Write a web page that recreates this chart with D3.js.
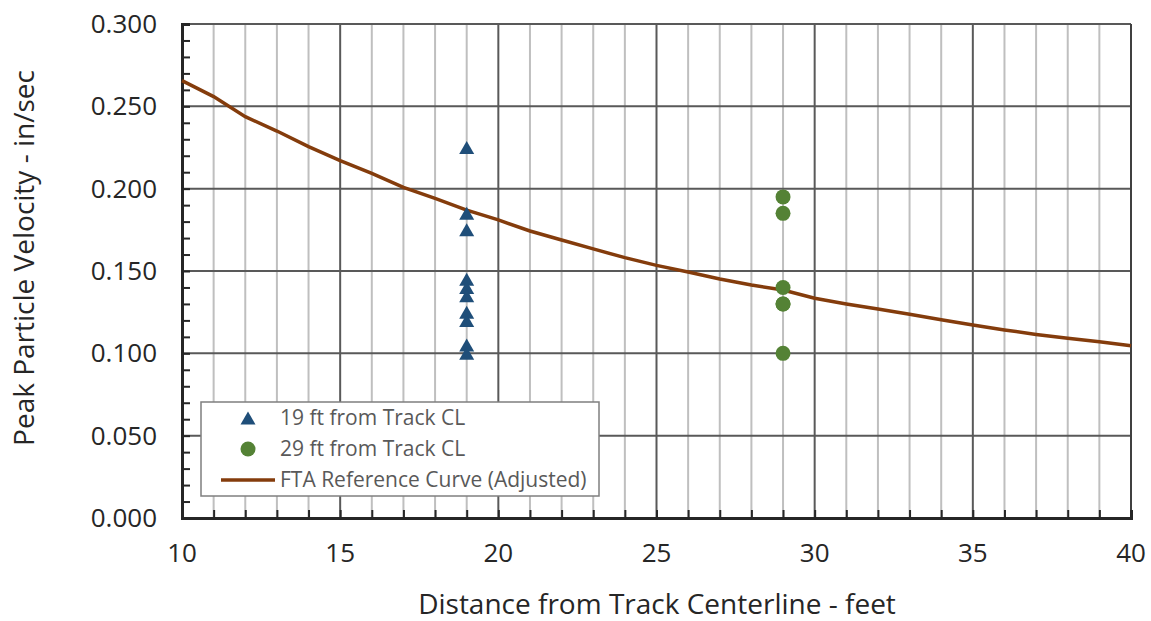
<!DOCTYPE html>
<html lang="en">
<head>
  <meta charset="UTF-8">
  <title>Peak Particle Velocity vs Distance</title>
  <style>
    body { margin: 0; background: #fff; font-family: "Open Sans", "Noto Sans", sans-serif; }
    svg { display: block; }
    .tick-label { fill: #262626; font-size: 26px; }
    .axis-title { fill: #262626; font-size: 28px; }
    .legend-text { fill: #595959; font-size: 21px; }
  </style>
</head>
<body>
  <svg id="chart" width="1151" height="621"></svg>
  <script src="https://d3js.org/d3.v7.min.js"></script>
  <script>
  const nearDist = 19;
  const nearPPV = [0.225, 0.185, 0.175, 0.145, 0.140, 0.135, 0.125, 0.120, 0.105, 0.100];
  const farDist = 29;
  const farPPV = [0.195, 0.185, 0.140, 0.130, 0.130, 0.100];

  // FTA reference curve (adjusted)
  const curveDist = [10, 11, 12, 13, 14, 15, 16, 17, 18, 19, 20, 21, 22, 23, 24, 25,
                     26, 27, 28, 29, 30, 31, 32, 33, 34, 35, 36, 37, 38, 39, 40];
  const curvePPV = [0.2656, 0.2559, 0.2437, 0.2350, 0.2255, 0.2170, 0.2093, 0.2008, 0.1941, 0.1870,
                    0.1810, 0.1743, 0.1688, 0.1634, 0.1581, 0.1534, 0.1494, 0.1451, 0.1415, 0.1385,
                    0.1335, 0.1300, 0.1269, 0.1237, 0.1204, 0.1172, 0.1142, 0.1115, 0.1091, 0.1070, 0.1046];

  const xTicks = [10, 15, 20, 25, 30, 35, 40];
  const yTicks = [0, 0.05, 0.10, 0.15, 0.20, 0.25, 0.30];
  const legendLabels = ["19 ft from Track CL", "29 ft from Track CL", "FTA Reference Curve (Adjusted)"];

  const width = 1151, height = 621;
  const margin = { top: 24, right: 20, bottom: 103, left: 182 };

  const svg = d3.select("#chart");
  const x = d3.scaleLinear().domain([10, 40]).range([margin.left, width - margin.right]);
  const y = d3.scaleLinear().domain([0, 0.3]).range([height - margin.bottom, margin.top]);

  const colNear = "#1f4e79", colFar = "#548235", colCurve = "#843c0c";

  // grid
  const grid = svg.append("g");
  const minorX = d3.range(11, 40).filter(v => v % 5 !== 0);
  grid.selectAll("line.minor-x").data(minorX).join("line")
    .attr("x1", d => x(d)).attr("x2", d => x(d))
    .attr("y1", y(0)).attr("y2", y(0.3))
    .attr("stroke", "#bfbfbf").attr("stroke-width", 2);
  grid.selectAll("line.major-x").data(xTicks.slice(1, -1)).join("line")
    .attr("x1", d => x(d)).attr("x2", d => x(d))
    .attr("y1", y(0)).attr("y2", y(0.3))
    .attr("stroke", "#595959").attr("stroke-width", 2);
  grid.selectAll("line.major-y").data(yTicks.slice(1)).join("line")
    .attr("x1", x(10)).attr("x2", x(40))
    .attr("y1", d => y(d)).attr("y2", d => y(d))
    .attr("stroke", "#595959").attr("stroke-width", 2);
  // right border
  grid.append("line")
    .attr("x1", x(40)).attr("x2", x(40)).attr("y1", y(0)).attr("y2", y(0.3))
    .attr("stroke", "#404040").attr("stroke-width", 2);

  // axes with inward minor ticks
  const xAxis = d3.axisBottom(x).tickValues(d3.range(10, 41)).tickSize(-8).tickFormat("");
  const yAxis = d3.axisLeft(y).tickValues(d3.range(0, 31).map(d => d / 100)).tickSize(-8).tickFormat("");
  [svg.append("g").attr("transform", `translate(0,${y(0)})`).call(xAxis),
   svg.append("g").attr("transform", `translate(${x(10)},0)`).call(yAxis)].forEach(g => {
    g.select(".domain").attr("stroke", "#262626").attr("stroke-width", 3);
    g.selectAll(".tick line").attr("stroke", "#262626").attr("stroke-width", 2);
  });

  // tick labels
  svg.append("g").selectAll("text").data(xTicks).join("text")
    .attr("class", "tick-label")
    .attr("x", d => x(d)).attr("y", y(0) + 44)
    .attr("text-anchor", "middle")
    .text(d => d);
  svg.append("g").selectAll("text").data(yTicks).join("text")
    .attr("class", "tick-label")
    .attr("x", x(10) - 25).attr("y", d => y(d))
    .attr("dy", "0.35em")
    .attr("text-anchor", "end")
    .text(d3.format(".3f"));

  // axis titles
  svg.append("text").attr("class", "axis-title")
    .attr("x", 657).attr("y", 614)
    .attr("text-anchor", "middle")
    .text("Distance from Track Centerline - feet");
  svg.append("text").attr("class", "axis-title")
    .attr("transform", "translate(34,258) rotate(-90)")
    .attr("text-anchor", "middle")
    .text("Peak Particle Velocity - in/sec");

  // reference curve
  const line = d3.line().x(d => x(d[0])).y(d => y(d[1]));
  svg.append("path")
    .datum(curveDist.map((d, i) => [d, curvePPV[i]]))
    .attr("d", line)
    .attr("fill", "none")
    .attr("stroke", colCurve)
    .attr("stroke-width", 3.5);

  const triPath = "M0,-6.5L7.5,6.5L-7.5,6.5Z";

  svg.append("g").selectAll("path").data(nearPPV).join("path")
    .attr("d", triPath)
    .attr("transform", d => `translate(${x(nearDist)},${y(d)})`)
    .attr("fill", colNear);

  svg.append("g").selectAll("circle").data(farPPV).join("circle")
    .attr("cx", x(farDist)).attr("cy", d => y(d))
    .attr("r", 7.5)
    .attr("fill", colFar);

  // legend
  const legend = svg.append("g");
  legend.append("rect")
    .attr("x", 201).attr("y", 402).attr("width", 398).attr("height", 94)
    .attr("fill", "#fff").attr("stroke", "#7f7f7f").attr("stroke-width", 1.5);
  legend.append("path").attr("d", triPath).attr("transform", "translate(248,418)").attr("fill", colNear);
  legend.append("circle").attr("cx", 248).attr("cy", 449).attr("r", 7.5).attr("fill", colFar);
  legend.append("line").attr("x1", 221).attr("x2", 275).attr("y1", 480).attr("y2", 480)
    .attr("stroke", colCurve).attr("stroke-width", 3.5);
  legend.selectAll("text").data(legendLabels).join("text")
    .attr("class", "legend-text")
    .attr("x", 280).attr("y", (d, i) => 418 + i * 31)
    .attr("dy", "0.35em")
    .text(d => d);
  </script>
</body>
</html>
